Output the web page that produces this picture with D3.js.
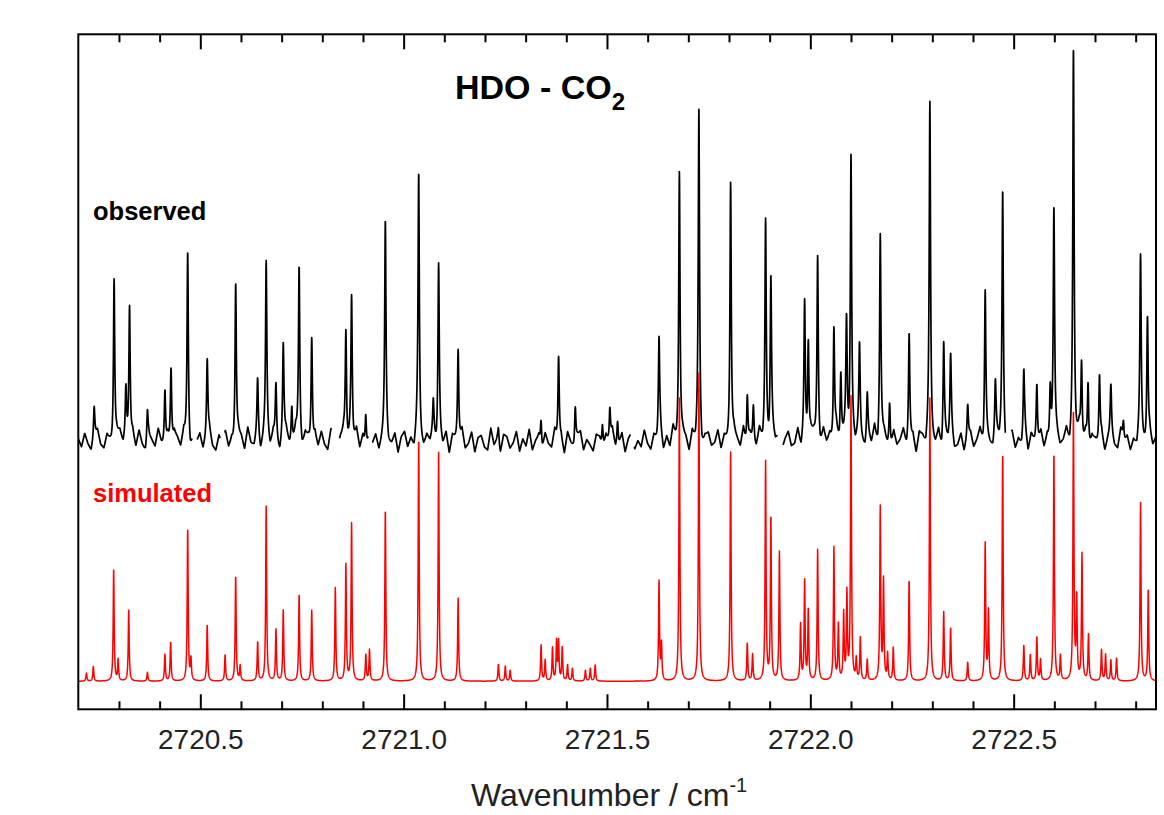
<!DOCTYPE html>
<html><head><meta charset="utf-8">
<script src="https://cdn.jsdelivr.net/npm/d3@7"></script>
<style>body{margin:0;background:#fff}svg{display:block}</style>
</head><body>
<svg id="c" width="1164" height="815"></svg>
<script>
// ---------------- data ----------------
const xDomain = [2720.2, 2722.85];
const yDomain = [0, 100];
const xMajorTicks = [2720.5, 2721.0, 2721.5, 2722.0, 2722.5];
const xMinorTicks = [2720.3, 2720.4, 2720.6, 2720.7, 2720.8, 2720.9, 2721.1, 2721.2, 2721.3, 2721.4,
  2721.6, 2721.7, 2721.8, 2721.9, 2722.1, 2722.2, 2722.3, 2722.4, 2722.6, 2722.7, 2722.8];

// observed spectrum: line positions (cm-1) and peak heights (arb. units)
const obsPos = [2720.239, 2720.288, 2720.317, 2720.326, 2720.370, 2720.413, 2720.428, 2720.469, 2720.517, 2720.587,
  2720.641, 2720.662, 2720.686, 2720.704, 2720.725, 2720.743, 2720.774, 2720.858, 2720.872, 2720.907,
  2720.955, 2721.037, 2721.073, 2721.086, 2721.134, 2721.233, 2721.338, 2721.381, 2721.422, 2721.489,
  2721.507, 2721.526, 2721.628, 2721.678, 2721.726, 2721.804, 2721.845, 2721.860, 2721.890, 2721.903,
  2721.986, 2721.995, 2722.018, 2722.058, 2722.075, 2722.089, 2722.100, 2722.121, 2722.140, 2722.172,
  2722.195, 2722.243, 2722.294, 2722.328, 2722.345, 2722.387, 2722.430, 2722.455, 2722.473, 2722.525,
  2722.557, 2722.590, 2722.599, 2722.647, 2722.667, 2722.683, 2722.711, 2722.739, 2722.770, 2722.812,
  2722.829];
const obsInt = [4.7, 25.4, 7.4, 21.0, 4.7, 8.4, 12.4, 29.1, 11.6, 24.5,
  8.1, 25.9, 8.3, 13.6, 5.7, 26.3, 17.3, 16.8, 21.5, 5.5,
  31.4, 39.1, 4.4, 26.5, 14.1, 2.5, 4.0, 13.3, 5.5, 4.0,
  4.9, 3.7, 14.7, 41.0, 48.0, 39.9, 7.7, 5.5, 32.2, 24.1,
  20.1, 15.2, 28.1, 16.9, 10.0, 17.0, 42.2, 13.3, 6.7, 30.8,
  6.7, 16.5, 49.4, 14.6, 11.5, 4.9, 22.5, 7.9, 36.4, 9.7,
  8.9, 8.9, 33.3, 58.2, 11.9, 9.6, 10.0, 7.2, 3.0, 26.4,
  18.8];
// regions where the observed trace has no data
const obsGaps = [[2720.480, 2720.492], [2720.549, 2720.560], [2720.822, 2720.842], [2720.913, 2720.923],
  [2721.558, 2721.567], [2721.919, 2721.933], [2722.480, 2722.494]];
// observed baseline noise (tenths of a unit), evenly sampled across the range
const obsNoise = [3,-5,8,-2,-9,4,11,-3,-7,6,-1,-12,5,9,-4,2,-8,7,-6,10,
  -3,-10,6,1,-5,12,-2,-7,4,-11,8,3,-6,9,-4,-13,5,-1,7,-8,
  2,11,-5,-9,6,-3,10,-6,1,-10,7,4,-8,13,-2,-5,9,-11,3,6,
  -7,8,-1,-12,5,10,-4,-6,11,-2,-9,7,2,-13,6,-5,9,-3,-8,12,
  -1,-6,4,9,-10,3,-4,11,-7,5,-12,8,-2,6,-9,1,10,-5,-3,7,
  -11,4,9,-6,2,-8,12,-3,-7,5,-1,10,-9,3,-5,8,-12,6,1,-4,
  11,-7,-2,9,-10,4,6,-5,-8,13,-3,2,-11,7,5,-6,-1,10,-9,3,
  -4,12,-8,1,6,-10,8,-2,-6,11,-5,3,-12,9,-1,-7,5,10,-8,2,
  -3,-9,7,4,-11,6,-2,12,-6,-4,8,-10,3,9,-7,1,-5,11,-2,-8,
  6,-1,10,-9,4,-6,13,-3,-7,5,2,-11,8,-4,9,-12,3,7,-5,-2,
  10,-8,4,-3,-10,7,1,-6,12,-9,5,-2,-7,11,-4,3,-11,8,-1,6,
  -9,2,9,-5,-3,11,-8,4,-12,7,6,-4,-9,10,-2,5,-7,12,-6,1,
  8,-11,3,-6,10,-1,-8,6,-3,13,-10,2,7,-5,-9,9,-4,1,11,-7,
  -2,5,-12,8,4,-7,10,-3,-5,9,-11,6,-1,12,-8,-4,7,-10,3,8,
  -6,1,11,-9,5,-3,-8,10,-2,6,-12,4,9,-7,2,-5,12,-10,7,-1,
  -4,9,-7,3,-11,8,5,-6,-1,10,-9,2,-3,11,-8,6,-12,4,1,-5,
  7,-10,3,9,-4,-7,12,-2,5,-9,1,-6,10,-3,-8,8,-5,4];

// simulated spectrum: line positions (cm-1) and peak heights (arb. units)
const simPos = [2720.220, 2720.237, 2720.287, 2720.298, 2720.324, 2720.370, 2720.413, 2720.427, 2720.469, 2720.477,
  2720.517, 2720.561, 2720.587, 2720.598, 2720.641, 2720.662, 2720.686, 2720.704, 2720.743, 2720.774,
  2720.832, 2720.858, 2720.872, 2720.907, 2720.916, 2720.955, 2721.037, 2721.086, 2721.134, 2721.233,
  2721.250, 2721.262, 2721.338, 2721.348, 2721.366, 2721.376, 2721.381, 2721.390, 2721.403, 2721.415,
  2721.447, 2721.459, 2721.471, 2721.628, 2721.634, 2721.678, 2721.726, 2721.804, 2721.845, 2721.858,
  2721.890, 2721.903, 2721.924, 2721.976, 2721.986, 2721.995, 2722.018, 2722.058, 2722.069, 2722.082,
  2722.090, 2722.100, 2722.113, 2722.123, 2722.140, 2722.172, 2722.180, 2722.190, 2722.204, 2722.243,
  2722.294, 2722.328, 2722.345, 2722.387, 2722.430, 2722.438, 2722.473, 2722.525, 2722.541, 2722.557,
  2722.566, 2722.599, 2722.615, 2722.647, 2722.655, 2722.668, 2722.684, 2722.716, 2722.726, 2722.739,
  2722.753, 2722.812, 2722.831];
const simInt = [1.2, 2.2, 16.7, 3.1, 10.5, 1.3, 4.0, 5.8, 22.7, 3.1,
  8.4, 3.9, 15.6, 2.2, 5.8, 25.9, 7.6, 10.5, 12.9, 10.5,
  13.8, 17.2, 23.3, 3.9, 4.6, 25.5, 36.1, 33.9, 12.3, 2.5,
  2.2, 1.6, 5.3, 3.1, 4.9, 5.8, 5.8, 4.9, 2.4, 1.9,
  1.6, 1.9, 2.4, 14.7, 5.3, 41.9, 45.6, 33.9, 5.6, 3.9,
  32.4, 24.3, 19.1, 8.3, 14.7, 10.5, 19.4, 19.7, 8.3, 9.8,
  12.7, 41.9, 3.1, 6.4, 3.1, 25.6, 14.7, 3.9, 4.9, 15.0,
  41.9, 10.2, 7.9, 2.8, 20.3, 10.2, 33.9, 5.3, 3.9, 6.5,
  3.1, 33.9, 3.7, 40.1, 12.0, 18.7, 6.8, 4.6, 3.9, 3.1,
  3.4, 26.4, 13.6];

const obsBaseline = 39.6;
const simBaseline = 4.15;
const labels = {title: "HDO - CO", titleSub: "2", obs: "observed", sim: "simulated",
  xTitle: "Wavenumber / cm", xTitleSup: "-1"};

// ---------------- drawing ----------------
const svg = d3.select("#c");
const L = 78.3, R = 1156, T = 34.3, B = 709.3;
const x = d3.scaleLinear().domain(xDomain).range([L, R]);
const y = d3.scaleLinear().domain(yDomain).range([B, T]);
const FONT = "'Liberation Sans', Arial, Helvetica, sans-serif";

const step = 0.0004;
const grid = d3.range(xDomain[0], xDomain[1] + step / 2, step);
function lor(w, pos, amp, hw) {
  let s = 0;
  for (let i = 0; i < pos.length; i++) {
    const d = (w - pos[i]) / hw;
    if (Math.abs(d) < 200) s += amp[i] / (1 + d * d);
  }
  return s;
}
const nStep = (xDomain[1] - xDomain[0]) / (obsNoise.length - 1);
function noiseAt(w) {
  const t = (w - xDomain[0]) / nStep;
  const i = Math.max(0, Math.min(obsNoise.length - 2, Math.floor(t)));
  const f = t - i;
  return (obsNoise[i] * (1 - f) + obsNoise[i + 1] * f) / 6.5;
}
const obsData = grid.map(w => ({w, v: obsBaseline + noiseAt(w) + lor(w, obsPos, obsInt, 0.0019),
  ok: !obsGaps.some(g => w >= g[0] && w <= g[1])}));
const simData = grid.map(w => ({w, v: simBaseline + lor(w, simPos, simInt, 0.0014)}));

svg.append("defs").append("clipPath").attr("id", "clip")
  .append("rect").attr("x", L).attr("y", T).attr("width", R - L).attr("height", B - T);

const line = d3.line().x(d => x(d.w)).y(d => y(d.v));
svg.append("path").datum(obsData)
  .attr("clip-path", "url(#clip)")
  .attr("d", line.defined(d => d.ok))
  .attr("fill", "none").attr("stroke", "#000").attr("stroke-width", 1.7).attr("stroke-linejoin", "round");
svg.append("path").datum(simData)
  .attr("clip-path", "url(#clip)")
  .attr("d", d3.line().x(d => x(d.w)).y(d => y(d.v)))
  .attr("fill", "none").attr("stroke", "#ff0000").attr("stroke-width", 1.5).attr("stroke-linejoin", "round");

// axes
function styleAxis(g) {
  g.select(".domain").remove();
  g.selectAll(".tick line").attr("stroke", "#000").attr("stroke-width", 2);
  g.selectAll(".tick text").attr("fill", "#222").style("font-family", FONT).style("font-size", "28px");
}
svg.append("g").attr("transform", `translate(0,${B})`)
  .call(d3.axisBottom(x).tickValues(xMajorTicks).tickSize(-15).tickPadding(20).tickFormat(d3.format(".1f")))
  .call(styleAxis);
svg.append("g").attr("transform", `translate(0,${B})`)
  .call(d3.axisBottom(x).tickValues(xMinorTicks).tickSize(-8).tickFormat(""))
  .call(styleAxis);
svg.append("g").attr("transform", `translate(0,${T})`)
  .call(d3.axisTop(x).tickValues(xMajorTicks).tickSize(-15).tickFormat(""))
  .call(styleAxis);
svg.append("g").attr("transform", `translate(0,${T})`)
  .call(d3.axisTop(x).tickValues(xMinorTicks).tickSize(-8).tickFormat(""))
  .call(styleAxis);

svg.append("rect").attr("x", L).attr("y", T).attr("width", R - L).attr("height", B - T)
  .attr("fill", "none").attr("stroke", "#000").attr("stroke-width", 2);

// texts
const title = svg.append("text").attr("x", 455).attr("y", 99.3)
  .style("font-family", FONT).style("font-weight", "bold").style("font-size", "34px").attr("fill", "#000");
title.append("tspan").text(labels.title);
title.append("tspan").attr("dy", 11).style("font-size", "24px").text(labels.titleSub);

svg.append("text").attr("x", 93).attr("y", 220).text(labels.obs)
  .style("font-family", FONT).style("font-weight", "bold").style("font-size", "25.5px").attr("fill", "#000");
svg.append("text").attr("x", 93).attr("y", 502).text(labels.sim)
  .style("font-family", FONT).style("font-weight", "bold").style("font-size", "25.5px").attr("fill", "#ff0000");

const xt = svg.append("text").attr("x", 471).attr("y", 806)
  .style("font-family", FONT).style("font-size", "32px").attr("fill", "#222");
xt.append("tspan").text(labels.xTitle);
xt.append("tspan").attr("dy", -14).style("font-size", "20px").text(labels.xTitleSup);
</script>
</body></html>
